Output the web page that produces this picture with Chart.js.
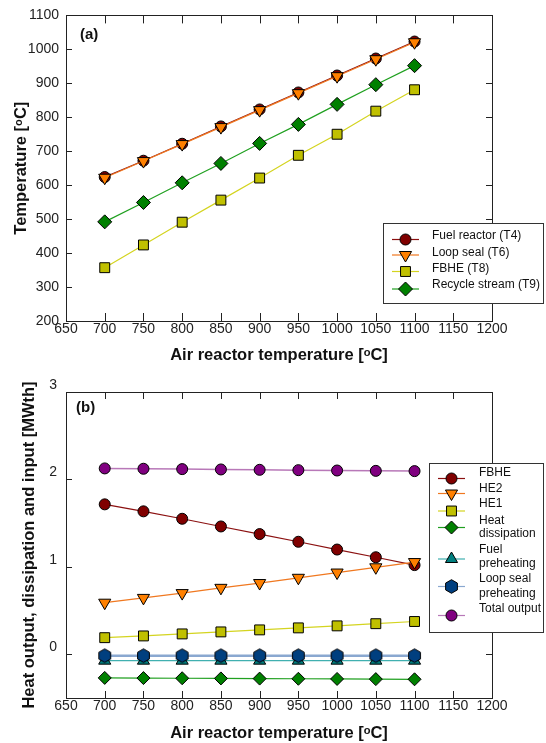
<!DOCTYPE html>
<html>
<head>
<meta charset="utf-8">
<script src="https://cdn.jsdelivr.net/npm/chart.js@4.4.0/dist/chart.umd.min.js"></script>
<style>
  html, body { margin: 0; padding: 0; background: #fff; overflow: hidden; }
  #wrap { position: relative; width: 546px; height: 743px; }
  canvas { position: absolute; left: 0; }
  #chartA { top: 0; }
  #chartB { top: 370px; }
</style>
</head>
<body>
<div id="wrap">
  <canvas id="chartA" width="546" height="370"></canvas>
  <canvas id="chartB" width="546" height="375"></canvas>
</div>
<script>
// shared x axis
const airTemp = [700, 750, 800, 850, 900, 950, 1000, 1050, 1100];
const xTickValues = [650, 700, 750, 800, 850, 900, 950, 1000, 1050, 1100, 1150, 1200];

// panel (a) - temperatures
const fuelReactorT4 = [624, 672, 722, 773, 823, 873, 923, 973, 1023];
const loopSealT6 = [622, 671, 721, 771, 821, 871, 921, 971, 1021];
const fbheT8 = [357, 424, 491, 556, 621, 688, 750, 818, 881];
const recycleT9 = [492, 549, 607, 664, 723, 779, 838, 896, 952];
const yTicksA = [200, 300, 400, 500, 600, 700, 800, 900, 1000, 1100];
const namesA = ['Fuel reactor (T4)', 'Loop seal (T6)', 'FBHE (T8)', 'Recycle stream (T9)'];

// panel (b) - heat output / dissipation / input
const fbheOut = [1.715, 1.635, 1.55, 1.462, 1.375, 1.287, 1.198, 1.11, 1.02];
const he2Out = [0.59, 0.645, 0.70, 0.76, 0.815, 0.875, 0.935, 0.995, 1.055];
const he1Out = [0.19, 0.21, 0.233, 0.256, 0.279, 0.302, 0.325, 0.35, 0.375];
const heatDissipation = [-0.27, -0.272, -0.274, -0.276, -0.278, -0.28, -0.282, -0.284, -0.286];
const fuelPreheating = [-0.073, -0.073, -0.073, -0.073, -0.073, -0.073, -0.073, -0.073, -0.073];
const loopSealPreheating = [-0.016, -0.016, -0.016, -0.016, -0.016, -0.016, -0.016, -0.016, -0.016];
const totalOutput = [2.126, 2.122, 2.118, 2.114, 2.11, 2.106, 2.102, 2.098, 2.095];
const yTicksB = [0, 1, 2, 3];
const namesB = [['FBHE'], ['HE2'], ['HE1'], ['Heat', 'dissipation'], ['Fuel', 'preheating'], ['Loop seal', 'preheating'], ['Total output']];

const FONT = '"Liberation Sans", Arial, Helvetica, sans-serif';
Chart.defaults.font.family = FONT;
Chart.defaults.color = '#111';

// hexagon marker for loop seal preheating
function makeHexagon(r, fill) {
  const c = document.createElement('canvas');
  const size = Math.ceil(r * 2 + 3);
  c.width = size; c.height = size;
  const g = c.getContext('2d');
  const cx = size / 2, cy = size / 2;
  g.beginPath();
  for (let k = 0; k < 6; k++) {
    const a = -Math.PI / 2 + k * Math.PI / 3;
    const px = cx + r * Math.cos(a), py = cy + r * Math.sin(a);
    if (k === 0) g.moveTo(px, py); else g.lineTo(px, py);
  }
  g.closePath();
  g.fillStyle = fill; g.fill();
  g.strokeStyle = '#000'; g.lineWidth = 1; g.stroke();
  return c;
}
const hexagon = makeHexagon(6.8, '#003f7f');

function series(label, values, fill, lineColor, style, radius, rotation, order, lineWidth) {
  return {
    label: label,
    data: airTemp.map((x, i) => ({ x: x, y: values[i] })),
    borderColor: lineColor,
    borderWidth: lineWidth || 1.2,
    backgroundColor: fill,
    pointBackgroundColor: fill,
    pointBorderColor: '#000',
    pointBorderWidth: 1,
    pointStyle: style,
    pointRadius: radius,
    pointHoverRadius: radius,
    pointRotation: rotation,
    order: order,
    tension: 0,
    fill: false
  };
}

function drawMarker(ctx, ds, x, y) {
  const style = ds.pointStyle, r = ds.pointRadius;
  ctx.save();
  if (style instanceof HTMLCanvasElement) {
    ctx.drawImage(style, x - style.width / 2, y - style.height / 2);
    ctx.restore();
    return;
  }
  ctx.fillStyle = ds.pointBackgroundColor;
  ctx.strokeStyle = '#000';
  ctx.lineWidth = 1;
  ctx.beginPath();
  if (style === 'circle') {
    ctx.arc(x, y, r, 0, Math.PI * 2);
  } else if (style === 'rect') {
    const s = r * Math.SQRT1_2;
    ctx.rect(x - s, y - s, 2 * s, 2 * s);
  } else if (style === 'rectRot') {
    ctx.moveTo(x, y - r); ctx.lineTo(x + r, y); ctx.lineTo(x, y + r); ctx.lineTo(x - r, y);
    ctx.closePath();
  } else if (style === 'triangle') {
    let rad = (ds.pointRotation || 0) * Math.PI / 180;
    for (let k = 0; k < 3; k++) {
      const px = x + Math.sin(rad) * r, py = y - Math.cos(rad) * r;
      if (k === 0) ctx.moveTo(px, py); else ctx.lineTo(px, py);
      rad += 2 * Math.PI / 3;
    }
    ctx.closePath();
  }
  ctx.fill();
  ctx.stroke();
  ctx.restore();
}

// frame with inward ticks, panel letter and legend box
const framePlugin = {
  id: 'frame',
  afterDraw(chart, args, opts) {
    const { ctx, chartArea: a, scales } = chart;
    ctx.save();
    ctx.strokeStyle = '#222';
    ctx.lineWidth = 1;
    ctx.beginPath();
    scales.x.ticks.forEach(t => {
      const px = Math.round(scales.x.getPixelForValue(t.value)) + 0.5;
      ctx.moveTo(px, a.bottom); ctx.lineTo(px, a.bottom - opts.xTick);
      ctx.moveTo(px, a.top); ctx.lineTo(px, a.top + opts.xTick);
    });
    scales.y.ticks.forEach(t => {
      const py = Math.round(scales.y.getPixelForValue(t.value)) + 0.5;
      ctx.moveTo(a.left, py); ctx.lineTo(a.left + opts.yTick, py);
      ctx.moveTo(a.right, py); ctx.lineTo(a.right - opts.yTick, py);
    });
    ctx.stroke();
    ctx.strokeRect(Math.round(a.left) + 0.5, Math.round(a.top) + 0.5,
      Math.round(a.right - a.left), Math.round(a.bottom - a.top));

    ctx.fillStyle = '#111';
    ctx.font = 'bold 15px ' + FONT;
    ctx.textBaseline = 'middle';
    ctx.textAlign = 'left';
    ctx.fillText(opts.panel, opts.panelX, opts.panelY);

    // legend
    const lg = opts.legend;
    ctx.fillStyle = '#fff';
    ctx.fillRect(lg.box[0], lg.box[1], lg.box[2] - lg.box[0], lg.box[3] - lg.box[1]);
    ctx.strokeStyle = '#333';
    ctx.strokeRect(lg.box[0] + 0.5, lg.box[1] + 0.5, lg.box[2] - lg.box[0], lg.box[3] - lg.box[1]);
    lg.rows.forEach(row => {
      const ds = chart.data.datasets[row.index];
      ctx.strokeStyle = ds.borderColor;
      ctx.lineWidth = 1.2;
      ctx.beginPath();
      ctx.moveTo(lg.lineX[0], row.markerY);
      ctx.lineTo(lg.lineX[1], row.markerY);
      ctx.stroke();
      drawMarker(ctx, ds, lg.markerX, row.markerY);
      ctx.fillStyle = '#111';
      ctx.font = '12px ' + FONT;
      ctx.textBaseline = 'middle';
      row.text.forEach((line, j) => ctx.fillText(line, lg.textX, row.textY[j]));
    });
    ctx.restore();
  }
};

function xScale(height, titlePadBottom) {
  return {
    type: 'linear', min: 650, max: 1200,
    grid: { display: false, drawTicks: false },
    border: { display: false },
    afterBuildTicks: s => { s.ticks = xTickValues.map(v => ({ value: v })); },
    afterFit: s => { s.height = height; },
    ticks: { padding: 0, font: { size: 14 }, color: '#222', maxRotation: 0, autoSkip: false, callback: v => String(v) },
    title: { display: true, text: 'Air reactor temperature [ᵒC]', font: { size: 16.5, weight: 'bold' }, color: '#111', padding: { top: 0, bottom: titlePadBottom } }
  };
}

// panel (a)
new Chart(document.getElementById('chartA'), {
  type: 'line',
  data: {
    datasets: [
      series(namesA[0], fuelReactorT4, '#800000', '#8b1010', 'circle', 5.5, 0, 4),
      series(namesA[1], loopSealT6, '#ff8000', '#f07820', 'triangle', 7, 180, 3),
      series(namesA[2], fbheT8, '#c0c000', '#d4d420', 'rect', 7, 0, 2),
      series(namesA[3], recycleT9, '#008000', '#20a020', 'rectRot', 7, 0, 1)
    ]
  },
  options: {
    responsive: false, animation: false, devicePixelRatio: 1,
    layout: { padding: { left: 0, top: 14, right: 54, bottom: 0 } },
    plugins: {
      legend: { display: false },
      tooltip: { enabled: false },
      frame: {
        xTick: 8, yTick: 6, panel: '(a)', panelX: 80, panelY: 35,
        legend: {
          box: [383, 223, 543, 303], lineX: [392, 419], markerX: 405.5, textX: 432,
          rows: [
            { index: 0, markerY: 239.5, text: [namesA[0]], textY: [236] },
            { index: 1, markerY: 255, text: [namesA[1]], textY: [252.5] },
            { index: 2, markerY: 271.5, text: [namesA[2]], textY: [269] },
            { index: 3, markerY: 289, text: [namesA[3]], textY: [284.5] }
          ]
        }
      }
    },
    scales: {
      x: xScale(49, 5),
      y: {
        min: 200, max: 1100,
        grid: { display: false, drawTicks: false },
        border: { display: false },
        afterBuildTicks: s => { s.ticks = yTicksA.map(v => ({ value: v })); },
        afterFit: s => { s.width = 66; },
        ticks: { padding: 7, font: { size: 14 }, color: '#222', callback: v => String(v) },
        title: { display: true, text: 'Temperature [ᵒC]', font: { size: 16.5, weight: 'bold' }, color: '#111', padding: { top: 12, bottom: 0 } }
      }
    }
  },
  plugins: [framePlugin]
});

// panel (b)
new Chart(document.getElementById('chartB'), {
  type: 'line',
  data: {
    datasets: [
      series(namesB[0].join(' '), fbheOut, '#800000', '#8b1010', 'circle', 5.5, 0, 6),
      series(namesB[1].join(' '), he2Out, '#ff8000', '#f07820', 'triangle', 7, 180, 5),
      series(namesB[2].join(' '), he1Out, '#c0c000', '#d4d420', 'rect', 7, 0, 4),
      series(namesB[3].join(' '), heatDissipation, '#008000', '#20a020', 'rectRot', 6.5, 0, 3),
      series(namesB[4].join(' '), fuelPreheating, '#007f7f', '#40b0b0', 'triangle', 7, 0, 2),
      series(namesB[5].join(' '), loopSealPreheating, '#003f7f', '#8aa8d0', hexagon, 6.8, 0, 1, 2.5),
      series(namesB[6].join(' '), totalOutput, '#800080', '#b878b8', 'circle', 5.5, 0, 0, 1.5)
    ]
  },
  options: {
    responsive: false, animation: false, devicePixelRatio: 1,
    layout: { padding: { left: 0, top: 22, right: 54, bottom: 0 } },
    plugins: {
      legend: { display: false },
      tooltip: { enabled: false },
      frame: {
        xTick: 7, yTick: 6, panel: '(b)', panelX: 76, panelY: 38,
        legend: {
          box: [429, 93, 543, 262], lineX: [438, 465], markerX: 451.5, textX: 479,
          rows: [
            { index: 0, markerY: 108.5, text: namesB[0], textY: [103] },
            { index: 1, markerY: 123.5, text: namesB[1], textY: [119] },
            { index: 2, markerY: 141, text: namesB[2], textY: [134] },
            { index: 3, markerY: 157.5, text: namesB[3], textY: [151, 163.5] },
            { index: 4, markerY: 189, text: namesB[4], textY: [179.5, 193.5] },
            { index: 5, markerY: 216.5, text: namesB[5], textY: [209, 223.5] },
            { index: 6, markerY: 245.5, text: namesB[6], textY: [239] }
          ]
        }
      }
    },
    scales: {
      x: xScale(47, 2),
      y: {
        min: -0.5, max: 3,
        grid: { display: false, drawTicks: false },
        border: { display: false },
        afterBuildTicks: s => { s.ticks = yTicksB.map(v => ({ value: v })); },
        afterFit: s => { s.width = 66; },
        ticks: { padding: 9, labelOffset: -7, font: { size: 14 }, color: '#222', callback: v => String(v) },
        title: { display: true, text: 'Heat output, dissipation and input [MWth]', font: { size: 16.5, weight: 'bold' }, color: '#111', padding: { top: 20, bottom: 0 } }
      }
    }
  },
  plugins: [framePlugin]
});
</script>
</body>
</html>
